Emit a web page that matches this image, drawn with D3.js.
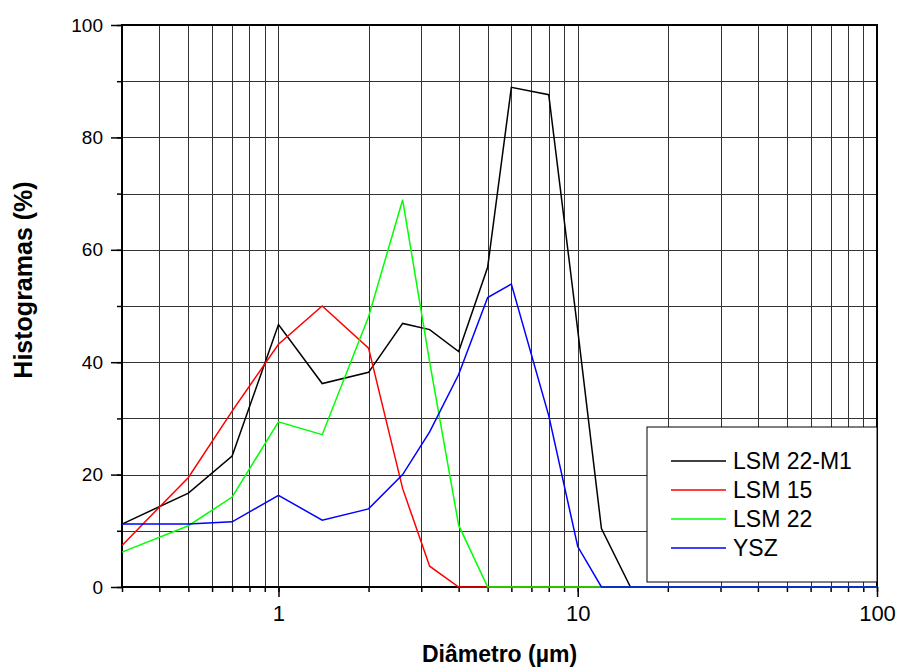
<!DOCTYPE html>
<html>
<head>
<meta charset="utf-8">
<script src="https://d3js.org/d3.v7.min.js"></script>
<style>
  body { margin: 0; background: #fff; }
  text { font-family: "Liberation Sans", Arial, sans-serif; }
</style>
</head>
<body>
<script>
// diameter (um) and histogram values (%)
var diam    = [0.3, 0.5, 0.7, 1, 1.4, 2, 2.6, 3.2, 4, 5, 6, 8, 10, 12, 15, 20, 30, 40, 50, 60, 80, 100];
var lsm22m1 = [11.2, 16.7, 23.3, 46.7, 36.2, 38.2, 46.9, 45.8, 41.9, 56.9, 88.9, 87.6, 45.7, 10.4, 0, 0, 0, 0, 0, 0, 0, 0];
var lsm15   = [7.4, 19.5, 31.3, 43.2, 50.0, 42.5, 17.5, 3.7, 0, 0, 0, 0, 0, 0, 0, 0, 0, 0, 0, 0, 0, 0];
var lsm22   = [6.2, 10.9, 16.0, 29.4, 27.1, 48.1, 68.9, 40.0, 11.0, 0, 0, 0, 0, 0, 0, 0, 0, 0, 0, 0, 0, 0];
var ysz     = [11.2, 11.2, 11.6, 16.3, 11.9, 13.9, 20.0, 27.6, 37.8, 51.5, 53.9, 30.5, 7.2, 0, 0, 0, 0, 0, 0, 0, 0, 0];

var seriesNames = ["LSM 22-M1", "LSM 15", "LSM 22", "YSZ"];
var seriesColors = ["#000000", "#ff0000", "#00ff00", "#0000ff"];
var seriesValues = [lsm22m1, lsm15, lsm22, ysz];

var xMajor = [1, 10, 100];
var yMajor = [0, 20, 40, 60, 80, 100];

var margin = {top: 25, right: 21, bottom: 82, left: 122},
    W = 898, H = 669,
    width = W - margin.left - margin.right,
    height = H - margin.top - margin.bottom;

var x = d3.scaleLog().domain([0.3, 100]).range([0, width]);
var y = d3.scaleLinear().domain([0, 100]).range([height, 0]);

var svg = d3.select("body").append("svg")
    .attr("width", W)
    .attr("height", H);

svg.append("rect").attr("width", W).attr("height", H).attr("fill", "#fff");

var g = svg.append("g")
    .attr("transform", "translate(" + margin.left + "," + margin.top + ")");

// minor log positions for grid and ticks
var xMinor = [];
[0.1, 1, 10].forEach(function(dec) {
  for (var k = 1; k <= 9; k++) {
    var v = +(k * dec).toPrecision(3);
    if (v >= 0.3 && v <= 100) xMinor.push(v);
  }
});
xMinor.push(100);
var yMinor = d3.range(0, 101, 10);

// grid
g.append("g").selectAll("line").data(xMinor).enter().append("line")
  .attr("x1", function(d) { return Math.round(x(d)) + 0.5; })
  .attr("x2", function(d) { return Math.round(x(d)) + 0.5; })
  .attr("y1", 0).attr("y2", height)
  .attr("stroke", "#333").attr("stroke-width", 1);

g.append("g").selectAll("line").data(yMinor).enter().append("line")
  .attr("y1", function(d) { return Math.round(y(d)) + 0.5; })
  .attr("y2", function(d) { return Math.round(y(d)) + 0.5; })
  .attr("x1", 0).attr("x2", width)
  .attr("stroke", "#333").attr("stroke-width", 1);

// axes
var xAxisMinor = d3.axisBottom(x).tickValues(xMinor).tickSize(5).tickFormat("");
var xAxisMajor = d3.axisBottom(x).tickValues(xMajor).tickSize(10).tickPadding(8)
    .tickFormat(function(d) { return d; });
var yAxisMinor = d3.axisLeft(y).tickValues(yMinor).tickSize(5).tickFormat("");
var yAxisMajor = d3.axisLeft(y).tickValues(yMajor).tickSize(11).tickPadding(8)
    .tickFormat(function(d) { return d; });

function styleAxis(sel, fs) {
  sel.select(".domain").remove();
  sel.selectAll("line").attr("stroke", "#000").attr("stroke-width", 1.5);
  sel.selectAll("text").attr("fill", "#000").style("font-size", fs + "px")
    .style("font-family", "'Liberation Sans', Arial, sans-serif");
}

g.append("g").attr("transform", "translate(0," + height + ")").call(xAxisMinor).call(styleAxis, 22);
var xa = g.append("g").attr("transform", "translate(0," + height + ")").call(xAxisMajor).call(styleAxis, 22);
xa.selectAll("text").attr("dy", "0.72em");
g.append("g").call(yAxisMinor).call(styleAxis, 19);
g.append("g").call(yAxisMajor).call(styleAxis, 19);

// frame (under the data lines, zero values sit on the bottom axis)
g.append("rect")
  .attr("x", 0).attr("y", 0)
  .attr("width", width).attr("height", height)
  .attr("fill", "none").attr("stroke", "#000").attr("stroke-width", 2);

// data lines
var line = d3.line()
    .x(function(d) { return x(d[0]); })
    .y(function(d) { return y(d[1]); });

seriesValues.forEach(function(vals, i) {
  var pts = diam.map(function(d, j) { return [d, vals[j]]; });
  g.append("path")
    .datum(pts)
    .attr("d", line)
    .attr("fill", "none")
    .attr("stroke", seriesColors[i])
    .attr("stroke-width", 1.5)
    .attr("stroke-linejoin", "miter");
});

// legend
var lg = g.append("g").attr("transform", "translate(" + (647 - margin.left) + "," + (427 - margin.top) + ")");
lg.append("rect")
  .attr("width", 230).attr("height", 155)
  .attr("fill", "#fff").attr("stroke", "#000").attr("stroke-width", 1);
seriesNames.forEach(function(name, i) {
  var yy = 34 + i * 29;
  lg.append("line")
    .attr("x1", 24).attr("x2", 79).attr("y1", yy).attr("y2", yy)
    .attr("stroke", seriesColors[i]).attr("stroke-width", 1.5);
  lg.append("text")
    .attr("x", 86).attr("y", yy + 8)
    .style("font-size", "23px")
    .attr("fill", "#000")
    .text(name);
});

// axis titles
svg.append("text")
  .attr("x", margin.left + width / 2).attr("y", 662)
  .attr("text-anchor", "middle")
  .style("font-size", "23px").style("font-weight", "bold")
  .text("Diâmetro (µm)");

svg.append("text")
  .attr("transform", "translate(32,280) rotate(-90)")
  .attr("text-anchor", "middle")
  .style("font-size", "25px").style("font-weight", "bold")
  .text("Histogramas (%)");
</script>
</body>
</html>
